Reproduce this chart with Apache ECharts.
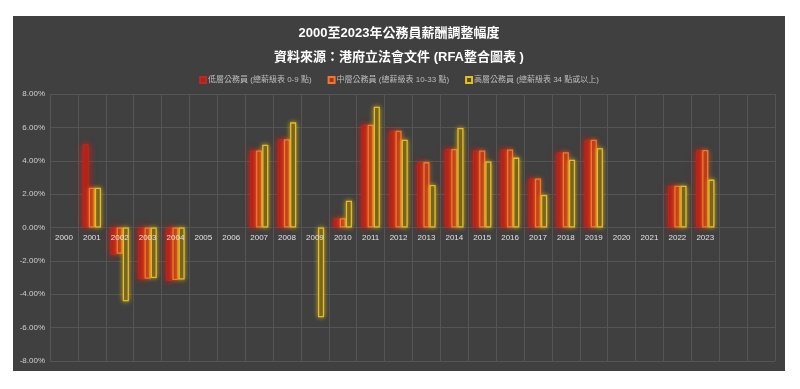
<!DOCTYPE html>
<html>
<head>
<meta charset="utf-8">
<script src="https://cdn.jsdelivr.net/npm/echarts@6/dist/echarts.min.js"></script>
<style>
html,body{margin:0;padding:0;background:#fff;width:800px;height:389px;overflow:hidden;}
#chart{position:absolute;left:13px;top:16px;width:772px;height:355px;background:#404040;}
</style>
</head>
<body>
<div id="chart"></div>
<script>
const categories = ['2000','2001','2002','2003','2004','2005','2006','2007','2008','2009','2010','2011','2012','2013','2014','2015','2016','2017','2018','2019','2020','2021','2022','2023','',''];
const lowerRank  = [null, 4.99, -1.64, -3.10, -3.20, null, null, 4.62, 5.29, null, 0.56, 6.16, 5.80, 3.92, 4.71, 4.62, 4.68, 2.94, 4.51, 5.26, null, null, 2.50, 4.65, null, null];
const middleRank = [null, 2.38, -1.58, -3.07, -3.15, null, null, 4.62, 5.29, null, 0.56, 6.16, 5.80, 3.92, 4.71, 4.62, 4.68, 2.94, 4.51, 5.26, null, null, 2.50, 4.65, null, null];
const upperRank  = [null, 2.38, -4.42, -3.03, -3.12, null, null, 4.96, 6.30, -5.38, 1.60, 7.24, 5.26, 2.55, 5.96, 3.96, 4.19, 1.95, 4.06, 4.75, null, null, 2.50, 2.87, null, null];
const seriesNames = ['低層公務員 (總薪級表 0-9 點)', '中層公務員 (總薪級表 10-33 點)', '高層公務員 (總薪級表 34 點或以上)'];
const yTicks = { min: -8, max: 8, interval: 2 };

const gridTop = 78, gridBottom = 10, chartH = 355;
const zeroOffset = -((chartH - gridTop - gridBottom) / 2);

const chart = echarts.init(document.getElementById('chart'));
const font = '"Liberation Sans", Arial, "Noto Sans CJK TC", sans-serif';
chart.setOption({
  backgroundColor: '#404040',
  textStyle: { fontFamily: font },
  title: [
    { text: '2000至2023年公務員薪酬調整幅度', left: 'center', top: 6,
      textStyle: { color: '#ffffff', fontSize: 13, fontWeight: 'bold', fontFamily: font } },
    { text: '資料來源：港府立法會文件 (RFA整合圖表 )', left: 'center', top: 30,
      textStyle: { color: '#ffffff', fontSize: 13, fontWeight: 'bold', fontFamily: font } }
  ],
  legend: {
    top: 55, left: 'center', itemWidth: 6, itemHeight: 6, itemGap: 16,
    icon: 'rect',
    textStyle: { color: '#bdbdbd', fontSize: 8, padding: [0, 0, 0, -3] },
    data: seriesNames
  },
  grid: { left: 37, right: 10, top: gridTop, bottom: gridBottom, containLabel: false, outerBoundsMode: 'none' },
  xAxis: {
    type: 'category', data: categories, offset: zeroOffset, z: 3,
    axisLine: { show: false, onZero: false },
    axisTick: { show: false },
    axisLabel: { color: '#e0e0e0', fontSize: 8, margin: 6, interval: 0 },
    splitLine: { show: true, lineStyle: { color: '#555555', width: 1 } }
  },
  yAxis: {
    type: 'value', min: yTicks.min, max: yTicks.max, interval: yTicks.interval,
    axisLine: { show: false }, axisTick: { show: false },
    axisLabel: { color: '#d0d0d0', fontSize: 8, margin: 5, formatter: v => v.toFixed(2) + '%' },
    splitLine: { lineStyle: { color: '#555555', width: 1 } }
  },
  series: [
    { name: seriesNames[0], type: 'bar', data: lowerRank, barGap: '0%', barCategoryGap: '34%',
      itemStyle: { color: '#ad231b', borderColor: '#bc291e', borderWidth: 1, shadowBlur: 7, shadowColor: 'rgba(230,30,20,0.9)' } },
    { name: seriesNames[1], type: 'bar', data: middleRank,
      itemStyle: { color: '#b4301e', borderColor: '#f07a2c', borderWidth: 1.3, shadowBlur: 5, shadowColor: 'rgba(240,110,30,0.7)' } },
    { name: seriesNames[2], type: 'bar', data: upperRank,
      itemStyle: { color: '#5a4e26', borderColor: '#e6bd1e', borderWidth: 1.3, shadowBlur: 5, shadowColor: 'rgba(240,200,30,0.7)' } }
  ]
});
</script>
</body>
</html>
